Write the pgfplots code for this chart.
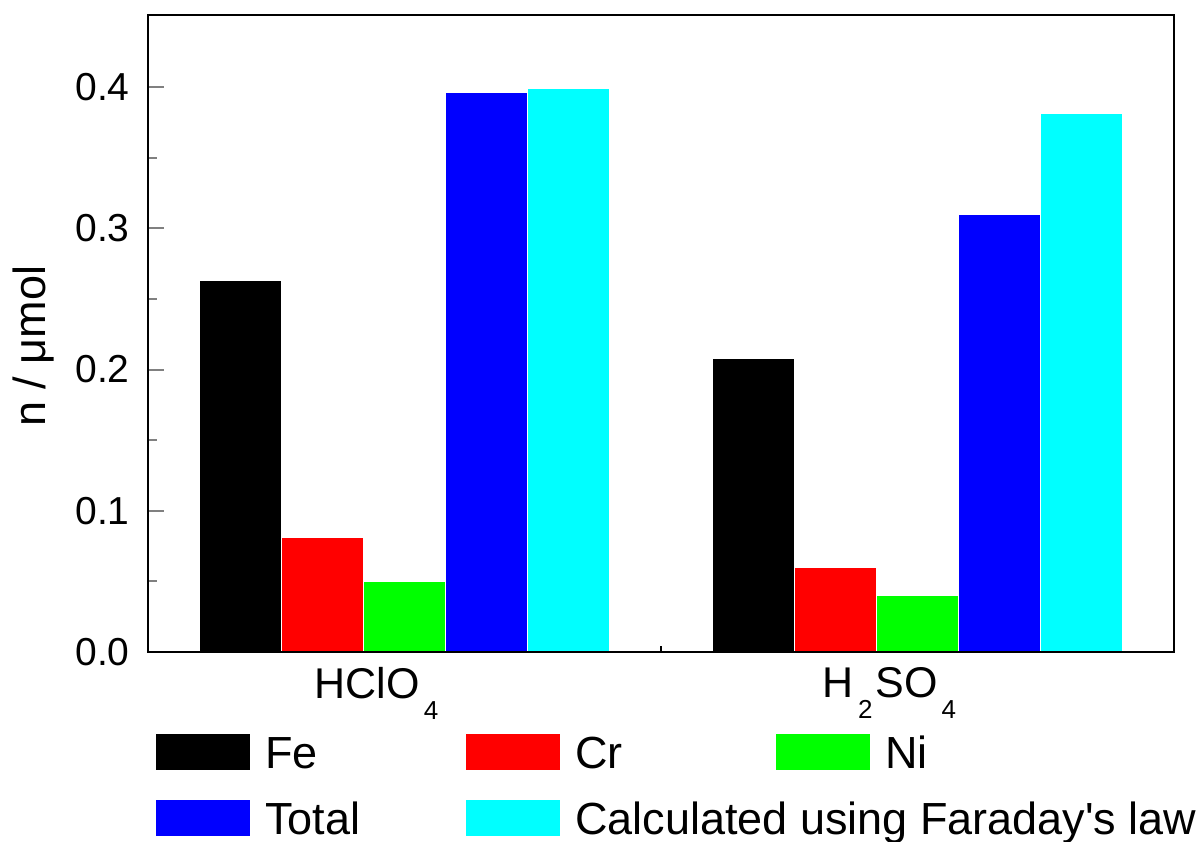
\documentclass[border=0pt]{standalone}
\usepackage{pgfplots}
\pgfplotsset{compat=1.18}
\usepackage{fontspec}
\setmainfont{Liberation Sans}
\newfontfamily\plainfont{Liberation Sans}
\definecolor{pcyan}{RGB}{0,255,255}
\definecolor{pred}{RGB}{255,0,0}
\definecolor{pgreen}{RGB}{0,255,0}
\definecolor{pblue}{RGB}{0,0,255}
\pgfplotsset{mybar/.style={ybar, bar width=0.16, bar shift=#1, draw=white, line width=0.5pt,
  legend image code/.code={\fill[##1] (0pt,-9.25pt) rectangle (47.5pt,9.25pt);}}}
\newcommand{\sub}[1]{\raisebox{-10.5pt}{\fontsize{13}{14}\selectfont #1}}
\begin{document}
\fontsize{22.5}{26}\selectfont
\begin{tikzpicture}
\useasboundingbox (-74pt,-94.5pt) rectangle (527pt,326pt);
\begin{axis}[
  at={(0,0)}, anchor=south west,
  width=513pt, height=318.5pt, scale only axis,
  xmin=0.5, xmax=2.5, ymin=0, ymax=0.451,
  axis line style={line width=1pt},
  axis on top,
  tick align=inside,
  tick pos=left,
  xtick={1,2},
  xticklabels={{HClO\kern2pt\sub{4}},
               {H\kern2pt\sub{2}\kern1.5pt SO\kern2pt\sub{4}}},
  x tick label style={xshift=-14pt, font=\fontsize{21.5}{25}\selectfont},
  xtick style={draw=none},
  extra x ticks={1.5},
  extra x tick labels={},
  extra x tick style={major tick length=3pt, xtick style={draw=black, line width=1pt}},
  ytick={0,0.1,0.2,0.3,0.4},
  minor y tick num=1,
  y tick style={line width=1pt},
  major tick length=8pt,
  minor tick length=4.5pt,
  yticklabel style={inner sep=0pt, xshift=-9pt, font=\fontsize{19.5}{23}\selectfont},
  /pgf/number format/assume math mode=true,
  /pgf/number format/fixed,
  /pgf/number format/fixed zerofill,
  /pgf/number format/precision=1,
  ylabel={n / μmol},
  y label style={at={(rel axis cs:0,0.48)}, anchor=center, yshift=57pt},
  legend columns=3,
  legend style={at={(0,0)}, anchor=north west, xshift=3.5pt, yshift=-40.5pt,
    draw=none, fill=none, inner sep=0pt, outer sep=0pt,
    column sep=0pt, row sep=14pt,
    nodes={inner sep=0pt, text height=16.1pt, text depth=0pt}},
]
\addplot[mybar=-0.32, fill=black] coordinates {(1,0.263) (2,0.208)};
\addplot[mybar=-0.16, fill=pred] coordinates {(1,0.0814) (2,0.060)};
\addplot[mybar=0, fill=pgreen] coordinates {(1,0.0496) (2,0.040)};
\addplot[mybar=0.16, fill=pblue] coordinates {(1,0.396) (2,0.310)};
\addplot[mybar=0.32, fill=pcyan] coordinates {(1,0.399) (2,0.381)};
\legend{{\kern7pt\makebox[100pt][l]{Fe}},
        {\kern7pt\makebox[100pt][l]{Cr}},
        {\kern7pt\makebox[96pt][l]{Ni}},
        {\kern7pt\makebox[100pt][l]{Total}},
        {\kern7pt\makebox[100pt][l]{Calculated using Faraday{\plainfont '}s law}}}
\end{axis}
\end{tikzpicture}
\end{document}
